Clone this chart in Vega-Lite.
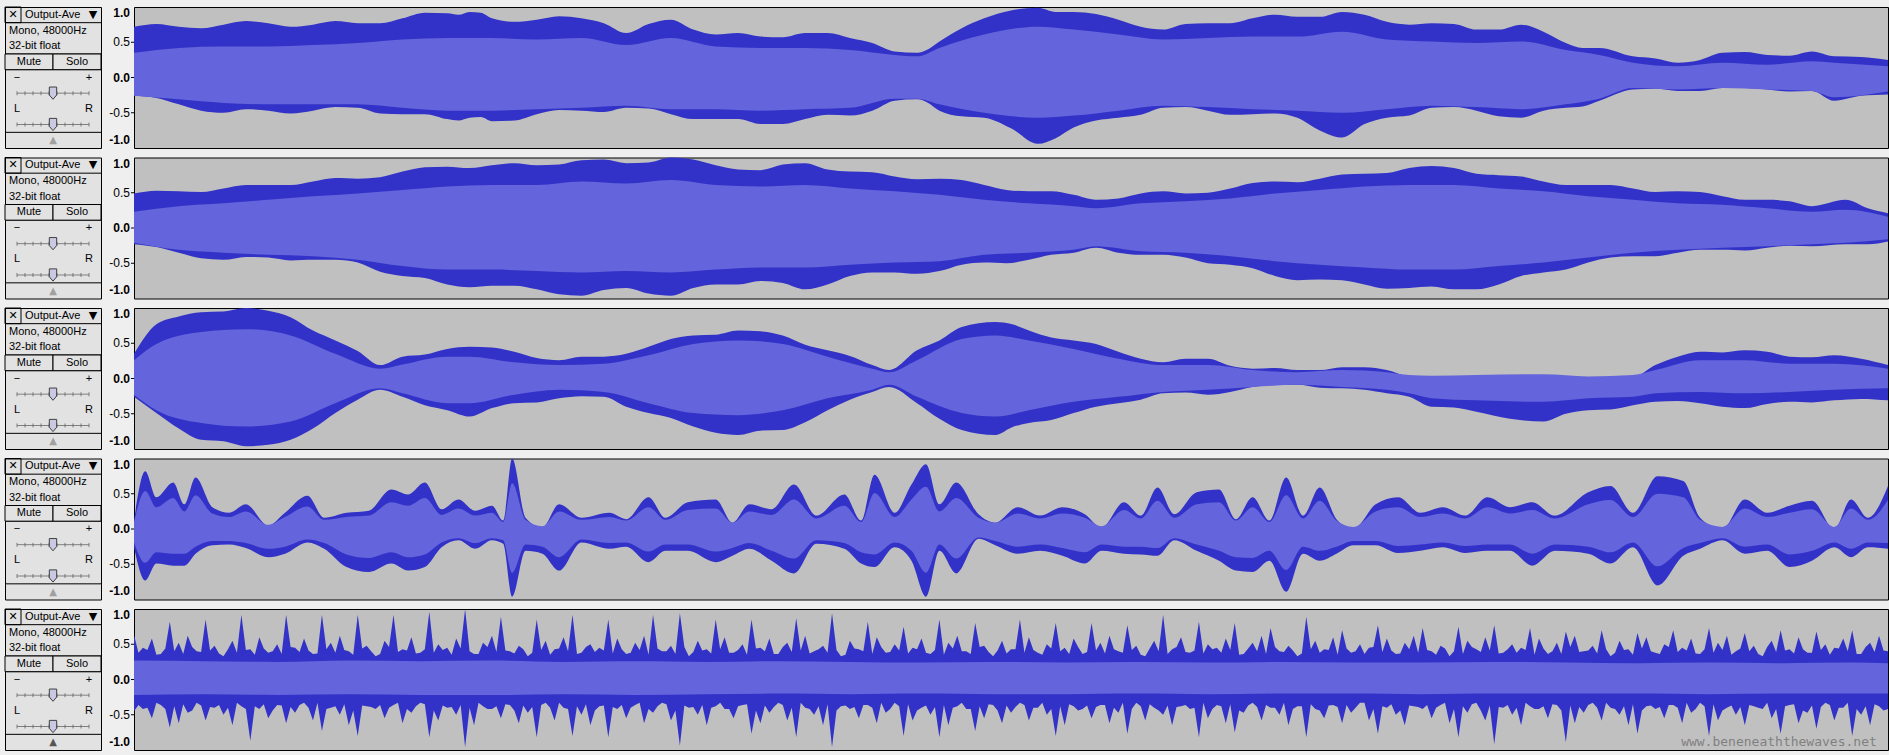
{
"$schema":"https://vega.github.io/schema/vega-lite/v6.json",
"background":"#EFEFEF",
"padding":{"left":4,"top":6,"right":2,"bottom":4},
"config":{"font":"Liberation Sans","view":{"stroke":"#000"}},
"spacing":6,
"hconcat":[
{
"data":{"values":[
{"k":"sep","row":"r2","tracks":[1,2,3,4,5]},
{"k":"sep","row":"r4","tracks":[1,2,3,4,5]},
{"k":"sep","row":"r5","tracks":[1,2,3,4,5]},
{"k":"sep","row":"r9","tracks":[1,2,3,4,5]},
{"k":"box","row":"r1","s6":"s1","tracks":[1,2,3,4,5]},
{"k":"tc","row":"r1","s6":"s1","label":"✕","tracks":[1,2,3,4,5]},
{"k":"tc","row":"r1","s6":"s6","label":"▼","tracks":[1,2,3,4,5]},
{"k":"tl","row":"r1","s6":"s2","label":"Output-Ave","tracks":[1,2,3,4,5]},
{"k":"tl","row":"r2","s6":"s1","label":"Mono, 48000Hz","tracks":[1,2,3,4,5]},
{"k":"tl","row":"r3","s6":"s1","label":"32-bit float","tracks":[1,2,3,4,5]},
{"k":"btn","row":"r4","h2":"h1","label":"Mute","tracks":[1,2,3,4,5]},
{"k":"btn","row":"r4","h2":"h2","label":"Solo","tracks":[1,2,3,4,5]},
{"k":"arr","row":"r9","h2":"h1","label":"▲","tracks":[1,2,3,4,5]},
{"k":"sl","row":"r5","c12":"c02","label":"−","tracks":[1,2,3,4,5]},
{"k":"sl","row":"r5","c12":"c11","label":"+","tracks":[1,2,3,4,5]},
{"k":"sl","row":"r7","c12":"c02","label":"L","tracks":[1,2,3,4,5]},
{"k":"sl","row":"r7","c12":"c11","label":"R","tracks":[1,2,3,4,5]},
{"k":"tk","row":"r6","c12":"c02","tracks":[1,2,3,4,5]},
{"k":"tk","row":"r6","c12":"c03","tracks":[1,2,3,4,5]},
{"k":"tk","row":"r6","c12":"c04","tracks":[1,2,3,4,5]},
{"k":"tk","row":"r6","c12":"c05","tracks":[1,2,3,4,5]},
{"k":"tk","row":"r6","c12":"c06","tracks":[1,2,3,4,5]},
{"k":"tk","row":"r6","c12":"c07","tracks":[1,2,3,4,5]},
{"k":"tk","row":"r6","c12":"c08","tracks":[1,2,3,4,5]},
{"k":"tk","row":"r6","c12":"c09","tracks":[1,2,3,4,5]},
{"k":"tk","row":"r6","c12":"c10","tracks":[1,2,3,4,5]},
{"k":"tk","row":"r6","c12":"c11","tracks":[1,2,3,4,5]},
{"k":"tk","row":"r8","c12":"c02","tracks":[1,2,3,4,5]},
{"k":"tk","row":"r8","c12":"c03","tracks":[1,2,3,4,5]},
{"k":"tk","row":"r8","c12":"c04","tracks":[1,2,3,4,5]},
{"k":"tk","row":"r8","c12":"c05","tracks":[1,2,3,4,5]},
{"k":"tk","row":"r8","c12":"c06","tracks":[1,2,3,4,5]},
{"k":"tk","row":"r8","c12":"c07","tracks":[1,2,3,4,5]},
{"k":"tk","row":"r8","c12":"c08","tracks":[1,2,3,4,5]},
{"k":"tk","row":"r8","c12":"c09","tracks":[1,2,3,4,5]},
{"k":"tk","row":"r8","c12":"c10","tracks":[1,2,3,4,5]},
{"k":"tk","row":"r8","c12":"c11","tracks":[1,2,3,4,5]},
{"k":"th","row":"r6","c12":"c06","tracks":[1,2,3,4,5]},
{"k":"th","row":"r8","c12":"c06","tracks":[1,2,3,4,5]}
]},
"transform":[{"flatten":["tracks"],"as":["track"]}],
"facet":{"row":{"field":"track","type":"ordinal","title":null,"header":{"labels":false}}},
"spacing":{"row":7.5},
"spec":{
"width":96,"height":141,
"view":{"fill":"#E2E2E2","stroke":"#000"},
"resolve":{"scale":{"x":"independent"}},
"layer":[
{"transform":[{"filter":"datum.k==='sep'"}],
 "mark":{"type":"rule","color":"#000","strokeWidth":1},
 "encoding":{"y":{"field":"row","type":"nominal","bandPosition":0,"scale":{"type":"band","domain":["r1","r2","r3","r4","r5","r6","r7","r8","r9"],"paddingInner":0,"paddingOuter":0},"axis":null}}},
{"transform":[{"filter":"datum.k==='box'"}],
 "mark":{"type":"rect","fillOpacity":0,"stroke":"#000","strokeWidth":1},
 "encoding":{"x":{"field":"s6","type":"nominal","scale":{"type":"band","domain":["s1","s2","s3","s4","s5","s6"],"paddingInner":0,"paddingOuter":0},"axis":null},
 "y":{"field":"row","type":"nominal","scale":{"type":"band","domain":["r1","r2","r3","r4","r5","r6","r7","r8","r9"],"paddingInner":0,"paddingOuter":0},"axis":null}}},
{"transform":[{"filter":"datum.k==='tc'"}],
 "mark":{"type":"text","fontSize":11,"font":"DejaVu Sans","color":"#000","baseline":"middle"},
 "encoding":{"x":{"field":"s6","type":"nominal","scale":{"type":"band","domain":["s1","s2","s3","s4","s5","s6"],"paddingInner":0,"paddingOuter":0},"axis":null},
 "y":{"field":"row","type":"nominal","scale":{"type":"band","domain":["r1","r2","r3","r4","r5","r6","r7","r8","r9"],"paddingInner":0,"paddingOuter":0},"axis":null},
 "text":{"field":"label"}}},
{"transform":[{"filter":"datum.k==='tl'"}],
 "mark":{"type":"text","fontSize":11,"align":"left","dx":4,"color":"#000","baseline":"middle"},
 "encoding":{"x":{"field":"s6","type":"nominal","bandPosition":0,"scale":{"type":"band","domain":["s1","s2","s3","s4","s5","s6"],"paddingInner":0,"paddingOuter":0},"axis":null},
 "y":{"field":"row","type":"nominal","scale":{"type":"band","domain":["r1","r2","r3","r4","r5","r6","r7","r8","r9"],"paddingInner":0,"paddingOuter":0},"axis":null},
 "text":{"field":"label"}}},
{"transform":[{"filter":"datum.k==='btn'"}],
 "mark":{"type":"rect","fill":"#E2E2E2","stroke":"#000","strokeWidth":1},
 "encoding":{"x":{"field":"h2","type":"nominal","scale":{"type":"band","domain":["h1","h2"],"paddingInner":0,"paddingOuter":0},"axis":null},
 "y":{"field":"row","type":"nominal","scale":{"type":"band","domain":["r1","r2","r3","r4","r5","r6","r7","r8","r9"],"paddingInner":0,"paddingOuter":0},"axis":null}}},
{"transform":[{"filter":"datum.k==='btn'"}],
 "mark":{"type":"text","fontSize":11,"color":"#000","baseline":"middle"},
 "encoding":{"x":{"field":"h2","type":"nominal","scale":{"type":"band","domain":["h1","h2"],"paddingInner":0,"paddingOuter":0},"axis":null},
 "y":{"field":"row","type":"nominal","scale":{"type":"band","domain":["r1","r2","r3","r4","r5","r6","r7","r8","r9"],"paddingInner":0,"paddingOuter":0},"axis":null},
 "text":{"field":"label"}}},
{"transform":[{"filter":"datum.k==='arr'"}],
 "mark":{"type":"text","fontSize":10,"font":"DejaVu Sans","baseline":"middle"},
 "encoding":{"x":{"field":"h2","type":"nominal","bandPosition":1,"scale":{"type":"band","domain":["h1","h2"],"paddingInner":0,"paddingOuter":0},"axis":null},
 "y":{"field":"row","type":"nominal","scale":{"type":"band","domain":["r1","r2","r3","r4","r5","r6","r7","r8","r9"],"paddingInner":0,"paddingOuter":0},"axis":null},
 "color":{"condition":{"test":"datum.track===5","value":"#555555"},"value":"#A0A0A0"},
 "text":{"field":"label"}}},
{"transform":[{"filter":"datum.k==='sl'"}],
 "mark":{"type":"text","fontSize":11,"color":"#000","baseline":"middle"},
 "encoding":{"x":{"field":"c12","type":"nominal","scale":{"type":"band","domain":["c01","c02","c03","c04","c05","c06","c07","c08","c09","c10","c11","c12"],"paddingInner":0,"paddingOuter":0},"axis":null},
 "y":{"field":"row","type":"nominal","scale":{"type":"band","domain":["r1","r2","r3","r4","r5","r6","r7","r8","r9"],"paddingInner":0,"paddingOuter":0},"axis":null},
 "text":{"field":"label"}}},
{"transform":[{"filter":"datum.k==='tk'"}],
 "mark":{"type":"line","color":"#808080","strokeWidth":1},
 "encoding":{"x":{"field":"c12","type":"nominal","scale":{"type":"band","domain":["c01","c02","c03","c04","c05","c06","c07","c08","c09","c10","c11","c12"],"paddingInner":0,"paddingOuter":0},"axis":null},
 "y":{"field":"row","type":"nominal","scale":{"type":"band","domain":["r1","r2","r3","r4","r5","r6","r7","r8","r9"],"paddingInner":0,"paddingOuter":0},"axis":null},
 "detail":{"field":"row"}}},
{"transform":[{"filter":"datum.k==='tk'"}],
 "mark":{"type":"tick","orient":"vertical","size":4,"thickness":1,"color":"#555555"},
 "encoding":{"x":{"field":"c12","type":"nominal","scale":{"type":"band","domain":["c01","c02","c03","c04","c05","c06","c07","c08","c09","c10","c11","c12"],"paddingInner":0,"paddingOuter":0},"axis":null},
 "y":{"field":"row","type":"nominal","scale":{"type":"band","domain":["r1","r2","r3","r4","r5","r6","r7","r8","r9"],"paddingInner":0,"paddingOuter":0},"axis":null}}},
{"transform":[{"filter":"datum.k==='th'"}],
 "mark":{"type":"point","shape":"M-0.6,-1L0.6,-1L0.6,0.3L0,1L-0.6,0.3Z","size":150,"filled":true,"fill":"#C9C9E3","stroke":"#404040","strokeWidth":1,"opacity":1},
 "encoding":{"x":{"field":"c12","type":"nominal","bandPosition":1,"scale":{"type":"band","domain":["c01","c02","c03","c04","c05","c06","c07","c08","c09","c10","c11","c12"],"paddingInner":0,"paddingOuter":0},"axis":null},
 "y":{"field":"row","type":"nominal","scale":{"type":"band","domain":["r1","r2","r3","r4","r5","r6","r7","r8","r9"],"paddingInner":0,"paddingOuter":0},"axis":null}}}
]}
},
{
"data":{"values":[
{"t":1,"x":0,"hi":0.72,"lo":-0.26,"rhi":0.35,"rlo":-0.26},
{"t":1,"x":40,"hi":0.72,"lo":-0.38,"rhi":0.42,"rlo":-0.31},
{"t":1,"x":80,"hi":0.75,"lo":-0.50,"rhi":0.44,"rlo":-0.36},
{"t":1,"x":120,"hi":0.77,"lo":-0.47,"rhi":0.44,"rlo":-0.38},
{"t":1,"x":160,"hi":0.75,"lo":-0.47,"rhi":0.46,"rlo":-0.38},
{"t":1,"x":200,"hi":0.77,"lo":-0.43,"rhi":0.49,"rlo":-0.38},
{"t":1,"x":240,"hi":0.84,"lo":-0.52,"rhi":0.54,"rlo":-0.43},
{"t":1,"x":280,"hi":0.91,"lo":-0.59,"rhi":0.56,"rlo":-0.47},
{"t":1,"x":300,"hi":0.93,"lo":-0.57,"rhi":0.56,"rlo":-0.47},
{"t":1,"x":320,"hi":0.84,"lo":-0.62,"rhi":0.56,"rlo":-0.47},
{"t":1,"x":360,"hi":0.82,"lo":-0.52,"rhi":0.54,"rlo":-0.45},
{"t":1,"x":400,"hi":0.84,"lo":-0.47,"rhi":0.56,"rlo":-0.43},
{"t":1,"x":440,"hi":0.63,"lo":-0.43,"rhi":0.46,"rlo":-0.40},
{"t":1,"x":480,"hi":0.82,"lo":-0.52,"rhi":0.56,"rlo":-0.45},
{"t":1,"x":520,"hi":0.61,"lo":-0.59,"rhi":0.44,"rlo":-0.45},
{"t":1,"x":560,"hi":0.58,"lo":-0.66,"rhi":0.42,"rlo":-0.47},
{"t":1,"x":600,"hi":0.63,"lo":-0.59,"rhi":0.42,"rlo":-0.45},
{"t":1,"x":640,"hi":0.56,"lo":-0.54,"rhi":0.39,"rlo":-0.43},
{"t":1,"x":680,"hi":0.37,"lo":-0.33,"rhi":0.32,"rlo":-0.30},
{"t":1,"x":700,"hi":0.35,"lo":-0.31,"rhi":0.30,"rlo":-0.30},
{"t":1,"x":720,"hi":0.51,"lo":-0.47,"rhi":0.42,"rlo":-0.38},
{"t":1,"x":760,"hi":0.84,"lo":-0.57,"rhi":0.61,"rlo":-0.50},
{"t":1,"x":808,"hi":0.99,"lo":-0.94,"rhi":0.72,"rlo":-0.57},
{"t":1,"x":840,"hi":0.93,"lo":-0.71,"rhi":0.68,"rlo":-0.54},
{"t":1,"x":880,"hi":0.82,"lo":-0.57,"rhi":0.61,"rlo":-0.47},
{"t":1,"x":920,"hi":0.68,"lo":-0.43,"rhi":0.54,"rlo":-0.40},
{"t":1,"x":960,"hi":0.77,"lo":-0.47,"rhi":0.56,"rlo":-0.42},
{"t":1,"x":1000,"hi":0.84,"lo":-0.52,"rhi":0.58,"rlo":-0.45},
{"t":1,"x":1040,"hi":0.86,"lo":-0.57,"rhi":0.58,"rlo":-0.47},
{"t":1,"x":1080,"hi":0.93,"lo":-0.85,"rhi":0.65,"rlo":-0.50},
{"t":1,"x":1120,"hi":0.79,"lo":-0.57,"rhi":0.54,"rlo":-0.45},
{"t":1,"x":1160,"hi":0.77,"lo":-0.43,"rhi":0.51,"rlo":-0.40},
{"t":1,"x":1200,"hi":0.68,"lo":-0.47,"rhi":0.49,"rlo":-0.42},
{"t":1,"x":1240,"hi":0.75,"lo":-0.57,"rhi":0.51,"rlo":-0.45},
{"t":1,"x":1280,"hi":0.49,"lo":-0.43,"rhi":0.39,"rlo":-0.38},
{"t":1,"x":1310,"hi":0.42,"lo":-0.33,"rhi":0.32,"rlo":-0.30},
{"t":1,"x":1340,"hi":0.30,"lo":-0.17,"rhi":0.21,"rlo":-0.15},
{"t":1,"x":1380,"hi":0.21,"lo":-0.19,"rhi":0.16,"rlo":-0.17},
{"t":1,"x":1420,"hi":0.35,"lo":-0.15,"rhi":0.21,"rlo":-0.15},
{"t":1,"x":1460,"hi":0.32,"lo":-0.17,"rhi":0.18,"rlo":-0.17},
{"t":1,"x":1500,"hi":0.37,"lo":-0.19,"rhi":0.23,"rlo":-0.19},
{"t":1,"x":1520,"hi":0.30,"lo":-0.33,"rhi":0.21,"rlo":-0.28},
{"t":1,"x":1568,"hi":0.25,"lo":-0.24,"rhi":0.16,"rlo":-0.20},
{"t":1,"x":20,"hi":0.76,"lo":-0.29},
{"t":1,"x":60,"hi":0.70,"lo":-0.47},
{"t":1,"x":100,"hi":0.80,"lo":-0.45},
{"t":1,"x":140,"hi":0.72,"lo":-0.51},
{"t":1,"x":180,"hi":0.80,"lo":-0.42},
{"t":1,"x":220,"hi":0.77,"lo":-0.51},
{"t":1,"x":260,"hi":0.92,"lo":-0.52},
{"t":1,"x":290,"hi":0.89,"lo":-0.61},
{"t":1,"x":310,"hi":0.92,"lo":-0.56},
{"t":1,"x":340,"hi":0.79,"lo":-0.61},
{"t":1,"x":380,"hi":0.87,"lo":-0.46},
{"t":1,"x":420,"hi":0.77,"lo":-0.49},
{"t":1,"x":460,"hi":0.76,"lo":-0.44},
{"t":1,"x":500,"hi":0.68,"lo":-0.59},
{"t":1,"x":540,"hi":0.63,"lo":-0.59},
{"t":1,"x":580,"hi":0.57,"lo":-0.66},
{"t":1,"x":620,"hi":0.63,"lo":-0.53},
{"t":1,"x":660,"hi":0.49,"lo":-0.47},
{"t":1,"x":710,"hi":0.40,"lo":-0.36},
{"t":1,"x":740,"hi":0.70,"lo":-0.55},
{"t":1,"x":784,"hi":0.95,"lo":-0.72},
{"t":1,"x":824,"hi":0.93,"lo":-0.86},
{"t":1,"x":860,"hi":0.90,"lo":-0.61},
{"t":1,"x":900,"hi":0.72,"lo":-0.53},
{"t":1,"x":940,"hi":0.76,"lo":-0.42},
{"t":1,"x":980,"hi":0.77,"lo":-0.53},
{"t":1,"x":1020,"hi":0.89,"lo":-0.51},
{"t":1,"x":1060,"hi":0.86,"lo":-0.75},
{"t":1,"x":1100,"hi":0.89,"lo":-0.66},
{"t":1,"x":1140,"hi":0.75,"lo":-0.54},
{"t":1,"x":1180,"hi":0.76,"lo":-0.42},
{"t":1,"x":1220,"hi":0.68,"lo":-0.55},
{"t":1,"x":1260,"hi":0.65,"lo":-0.47},
{"t":1,"x":1295,"hi":0.42,"lo":-0.41},
{"t":1,"x":1360,"hi":0.27,"lo":-0.16},
{"t":1,"x":1400,"hi":0.25,"lo":-0.19},
{"t":1,"x":1440,"hi":0.36,"lo":-0.15},
{"t":1,"x":1480,"hi":0.31,"lo":-0.20},
{"t":1,"x":1544,"hi":0.29,"lo":-0.26},
{"t":2,"x":0,"hi":0.49,"lo":-0.23,"rhi":0.23,"rlo":-0.21},
{"t":2,"x":40,"hi":0.52,"lo":-0.35,"rhi":0.31,"rlo":-0.31},
{"t":2,"x":80,"hi":0.56,"lo":-0.45,"rhi":0.35,"rlo":-0.35},
{"t":2,"x":120,"hi":0.61,"lo":-0.42,"rhi":0.40,"rlo":-0.38},
{"t":2,"x":160,"hi":0.66,"lo":-0.45,"rhi":0.45,"rlo":-0.40},
{"t":2,"x":200,"hi":0.70,"lo":-0.49,"rhi":0.49,"rlo":-0.45},
{"t":2,"x":240,"hi":0.80,"lo":-0.68,"rhi":0.54,"rlo":-0.54},
{"t":2,"x":280,"hi":0.87,"lo":-0.80,"rhi":0.59,"rlo":-0.59},
{"t":2,"x":320,"hi":0.89,"lo":-0.82,"rhi":0.61,"rlo":-0.59},
{"t":2,"x":360,"hi":0.89,"lo":-0.87,"rhi":0.61,"rlo":-0.61},
{"t":2,"x":400,"hi":0.96,"lo":-0.96,"rhi":0.66,"rlo":-0.63},
{"t":2,"x":440,"hi":0.92,"lo":-0.85,"rhi":0.63,"rlo":-0.61},
{"t":2,"x":480,"hi":1.0,"lo":-0.96,"rhi":0.68,"rlo":-0.63},
{"t":2,"x":520,"hi":0.89,"lo":-0.80,"rhi":0.61,"rlo":-0.59},
{"t":2,"x":560,"hi":0.82,"lo":-0.75,"rhi":0.59,"rlo":-0.56},
{"t":2,"x":600,"hi":0.92,"lo":-0.87,"rhi":0.61,"rlo":-0.56},
{"t":2,"x":640,"hi":0.80,"lo":-0.68,"rhi":0.56,"rlo":-0.52},
{"t":2,"x":680,"hi":0.73,"lo":-0.63,"rhi":0.52,"rlo":-0.49},
{"t":2,"x":720,"hi":0.70,"lo":-0.61,"rhi":0.47,"rlo":-0.47},
{"t":2,"x":760,"hi":0.61,"lo":-0.49,"rhi":0.40,"rlo":-0.38},
{"t":2,"x":800,"hi":0.52,"lo":-0.45,"rhi":0.35,"rlo":-0.35},
{"t":2,"x":840,"hi":0.47,"lo":-0.35,"rhi":0.31,"rlo":-0.31},
{"t":2,"x":860,"hi":0.40,"lo":-0.28,"rhi":0.28,"rlo":-0.26},
{"t":2,"x":900,"hi":0.49,"lo":-0.38,"rhi":0.35,"rlo":-0.33},
{"t":2,"x":940,"hi":0.49,"lo":-0.42,"rhi":0.38,"rlo":-0.35},
{"t":2,"x":980,"hi":0.56,"lo":-0.52,"rhi":0.42,"rlo":-0.40},
{"t":2,"x":1020,"hi":0.66,"lo":-0.68,"rhi":0.49,"rlo":-0.47},
{"t":2,"x":1060,"hi":0.70,"lo":-0.73,"rhi":0.54,"rlo":-0.52},
{"t":2,"x":1100,"hi":0.77,"lo":-0.80,"rhi":0.59,"rlo":-0.56},
{"t":2,"x":1140,"hi":0.85,"lo":-0.85,"rhi":0.61,"rlo":-0.59},
{"t":2,"x":1180,"hi":0.85,"lo":-0.87,"rhi":0.61,"rlo":-0.59},
{"t":2,"x":1220,"hi":0.75,"lo":-0.80,"rhi":0.56,"rlo":-0.54},
{"t":2,"x":1260,"hi":0.66,"lo":-0.63,"rhi":0.52,"rlo":-0.49},
{"t":2,"x":1300,"hi":0.61,"lo":-0.49,"rhi":0.45,"rlo":-0.42},
{"t":2,"x":1340,"hi":0.56,"lo":-0.40,"rhi":0.40,"rlo":-0.35},
{"t":2,"x":1380,"hi":0.52,"lo":-0.35,"rhi":0.35,"rlo":-0.31},
{"t":2,"x":1420,"hi":0.45,"lo":-0.31,"rhi":0.33,"rlo":-0.28},
{"t":2,"x":1460,"hi":0.40,"lo":-0.28,"rhi":0.28,"rlo":-0.26},
{"t":2,"x":1500,"hi":0.31,"lo":-0.26,"rhi":0.23,"rlo":-0.23},
{"t":2,"x":1530,"hi":0.40,"lo":-0.23,"rhi":0.26,"rlo":-0.21},
{"t":2,"x":1568,"hi":0.21,"lo":-0.19,"rhi":0.16,"rlo":-0.16},
{"t":2,"x":20,"hi":0.53,"lo":-0.27},
{"t":2,"x":60,"hi":0.51,"lo":-0.43},
{"t":2,"x":100,"hi":0.61,"lo":-0.41},
{"t":2,"x":140,"hi":0.61,"lo":-0.46},
{"t":2,"x":180,"hi":0.71,"lo":-0.45},
{"t":2,"x":220,"hi":0.72,"lo":-0.62},
{"t":2,"x":260,"hi":0.86,"lo":-0.71},
{"t":2,"x":300,"hi":0.85,"lo":-0.84},
{"t":2,"x":340,"hi":0.92,"lo":-0.82},
{"t":2,"x":380,"hi":0.90,"lo":-0.94},
{"t":2,"x":420,"hi":0.97,"lo":-0.88},
{"t":2,"x":460,"hi":0.93,"lo":-0.93},
{"t":2,"x":500,"hi":0.97,"lo":-0.85},
{"t":2,"x":540,"hi":0.83,"lo":-0.80},
{"t":2,"x":580,"hi":0.90,"lo":-0.78},
{"t":2,"x":620,"hi":0.83,"lo":-0.80},
{"t":2,"x":660,"hi":0.79,"lo":-0.63},
{"t":2,"x":700,"hi":0.69,"lo":-0.65},
{"t":2,"x":740,"hi":0.68,"lo":-0.52},
{"t":2,"x":780,"hi":0.54,"lo":-0.50},
{"t":2,"x":820,"hi":0.52,"lo":-0.38},
{"t":2,"x":880,"hi":0.42,"lo":-0.35},
{"t":2,"x":920,"hi":0.52,"lo":-0.38},
{"t":2,"x":960,"hi":0.50,"lo":-0.50},
{"t":2,"x":1000,"hi":0.64,"lo":-0.57},
{"t":2,"x":1040,"hi":0.65,"lo":-0.74},
{"t":2,"x":1080,"hi":0.76,"lo":-0.74},
{"t":2,"x":1120,"hi":0.78,"lo":-0.86},
{"t":2,"x":1160,"hi":0.88,"lo":-0.83},
{"t":2,"x":1200,"hi":0.77,"lo":-0.87},
{"t":2,"x":1240,"hi":0.73,"lo":-0.68},
{"t":2,"x":1280,"hi":0.61,"lo":-0.59},
{"t":2,"x":1320,"hi":0.61,"lo":-0.42},
{"t":2,"x":1360,"hi":0.51,"lo":-0.40},
{"t":2,"x":1400,"hi":0.51,"lo":-0.31},
{"t":2,"x":1440,"hi":0.40,"lo":-0.32},
{"t":2,"x":1480,"hi":0.38,"lo":-0.25},
{"t":2,"x":1550,"hi":0.28,"lo":-0.23},
{"t":3,"x":0,"hi":0.35,"lo":-0.26,"rhi":0.26,"rlo":-0.23},
{"t":3,"x":20,"hi":0.77,"lo":-0.49,"rhi":0.49,"rlo":-0.45},
{"t":3,"x":60,"hi":0.94,"lo":-0.87,"rhi":0.66,"rlo":-0.63},
{"t":3,"x":100,"hi":1.0,"lo":-0.96,"rhi":0.70,"rlo":-0.68},
{"t":3,"x":140,"hi":0.87,"lo":-0.87,"rhi":0.61,"rlo":-0.61},
{"t":3,"x":180,"hi":0.54,"lo":-0.49,"rhi":0.35,"rlo":-0.35},
{"t":3,"x":220,"hi":0.19,"lo":-0.16,"rhi":0.14,"rlo":-0.14},
{"t":3,"x":240,"hi":0.31,"lo":-0.26,"rhi":0.20,"rlo":-0.21},
{"t":3,"x":280,"hi":0.42,"lo":-0.45,"rhi":0.31,"rlo":-0.35},
{"t":3,"x":300,"hi":0.45,"lo":-0.54,"rhi":0.31,"rlo":-0.35},
{"t":3,"x":340,"hi":0.38,"lo":-0.35,"rhi":0.23,"rlo":-0.23},
{"t":3,"x":380,"hi":0.26,"lo":-0.28,"rhi":0.19,"rlo":-0.16},
{"t":3,"x":420,"hi":0.31,"lo":-0.26,"rhi":0.21,"rlo":-0.19},
{"t":3,"x":460,"hi":0.45,"lo":-0.49,"rhi":0.33,"rlo":-0.35},
{"t":3,"x":500,"hi":0.61,"lo":-0.68,"rhi":0.49,"rlo":-0.49},
{"t":3,"x":540,"hi":0.68,"lo":-0.80,"rhi":0.54,"rlo":-0.52},
{"t":3,"x":580,"hi":0.61,"lo":-0.73,"rhi":0.49,"rlo":-0.45},
{"t":3,"x":620,"hi":0.40,"lo":-0.45,"rhi":0.31,"rlo":-0.28},
{"t":3,"x":660,"hi":0.19,"lo":-0.19,"rhi":0.14,"rlo":-0.16},
{"t":3,"x":675,"hi":0.12,"lo":-0.12,"rhi":0.09,"rlo":-0.09},
{"t":3,"x":700,"hi":0.40,"lo":-0.35,"rhi":0.26,"rlo":-0.26},
{"t":3,"x":740,"hi":0.73,"lo":-0.73,"rhi":0.56,"rlo":-0.49},
{"t":3,"x":770,"hi":0.80,"lo":-0.80,"rhi":0.61,"rlo":-0.54},
{"t":3,"x":800,"hi":0.68,"lo":-0.63,"rhi":0.54,"rlo":-0.45},
{"t":3,"x":840,"hi":0.54,"lo":-0.49,"rhi":0.42,"rlo":-0.33},
{"t":3,"x":880,"hi":0.38,"lo":-0.35,"rhi":0.28,"rlo":-0.26},
{"t":3,"x":920,"hi":0.23,"lo":-0.21,"rhi":0.19,"rlo":-0.19},
{"t":3,"x":960,"hi":0.28,"lo":-0.23,"rhi":0.19,"rlo":-0.16},
{"t":3,"x":1000,"hi":0.14,"lo":-0.12,"rhi":0.12,"rlo":-0.12},
{"t":3,"x":1040,"hi":0.12,"lo":-0.09,"rhi":0.09,"rlo":-0.09},
{"t":3,"x":1080,"hi":0.16,"lo":-0.14,"rhi":0.12,"rlo":-0.12},
{"t":3,"x":1120,"hi":0.12,"lo":-0.21,"rhi":0.09,"rlo":-0.16},
{"t":3,"x":1140,"hi":0.03,"lo":-0.26,"rhi":0.05,"rlo":-0.21},
{"t":3,"x":1160,"hi":0.02,"lo":-0.40,"rhi":0.04,"rlo":-0.28},
{"t":3,"x":1200,"hi":0.02,"lo":-0.47,"rhi":0.05,"rlo":-0.31},
{"t":3,"x":1260,"hi":0.02,"lo":-0.61,"rhi":0.06,"rlo":-0.33},
{"t":3,"x":1300,"hi":0.01,"lo":-0.45,"rhi":0.03,"rlo":-0.28},
{"t":3,"x":1340,"hi":0.02,"lo":-0.38,"rhi":0.05,"rlo":-0.26},
{"t":3,"x":1360,"hi":0.19,"lo":-0.33,"rhi":0.12,"rlo":-0.21},
{"t":3,"x":1400,"hi":0.38,"lo":-0.35,"rhi":0.26,"rlo":-0.19},
{"t":3,"x":1440,"hi":0.40,"lo":-0.42,"rhi":0.26,"rlo":-0.21},
{"t":3,"x":1480,"hi":0.31,"lo":-0.33,"rhi":0.21,"rlo":-0.19},
{"t":3,"x":1520,"hi":0.33,"lo":-0.31,"rhi":0.21,"rlo":-0.16},
{"t":3,"x":1568,"hi":0.19,"lo":-0.31,"rhi":0.14,"rlo":-0.14},
{"t":3,"x":40,"hi":0.88,"lo":-0.71},
{"t":3,"x":80,"hi":0.95,"lo":-0.89},
{"t":3,"x":120,"hi":0.96,"lo":-0.94},
{"t":3,"x":160,"hi":0.68,"lo":-0.71},
{"t":3,"x":200,"hi":0.39,"lo":-0.30},
{"t":3,"x":260,"hi":0.34,"lo":-0.38},
{"t":3,"x":320,"hi":0.44,"lo":-0.42},
{"t":3,"x":360,"hi":0.29,"lo":-0.34},
{"t":3,"x":400,"hi":0.31,"lo":-0.25},
{"t":3,"x":440,"hi":0.35,"lo":-0.40},
{"t":3,"x":480,"hi":0.56,"lo":-0.56},
{"t":3,"x":520,"hi":0.62,"lo":-0.77},
{"t":3,"x":560,"hi":0.67,"lo":-0.74},
{"t":3,"x":600,"hi":0.48,"lo":-0.62},
{"t":3,"x":640,"hi":0.32,"lo":-0.30},
{"t":3,"x":720,"hi":0.54,"lo":-0.57},
{"t":3,"x":785,"hi":0.77,"lo":-0.69},
{"t":3,"x":820,"hi":0.58,"lo":-0.59},
{"t":3,"x":860,"hi":0.49,"lo":-0.40},
{"t":3,"x":900,"hi":0.28,"lo":-0.30},
{"t":3,"x":940,"hi":0.28,"lo":-0.20},
{"t":3,"x":980,"hi":0.18,"lo":-0.19},
{"t":3,"x":1020,"hi":0.15,"lo":-0.09},
{"t":3,"x":1060,"hi":0.12,"lo":-0.13},
{"t":3,"x":1100,"hi":0.16,"lo":-0.16},
{"t":3,"x":1180,"hi":0.03,"lo":-0.41},
{"t":3,"x":1230,"hi":0.01,"lo":-0.57},
{"t":3,"x":1280,"hi":0.03,"lo":-0.50},
{"t":3,"x":1320,"hi":0.02,"lo":-0.44},
{"t":3,"x":1380,"hi":0.31,"lo":-0.32},
{"t":3,"x":1420,"hi":0.37,"lo":-0.40},
{"t":3,"x":1460,"hi":0.38,"lo":-0.36},
{"t":3,"x":1500,"hi":0.30,"lo":-0.34},
{"t":3,"x":1544,"hi":0.28,"lo":-0.29},
{"t":4,"x":0,"hi":0.12,"lo":-0.26,"rhi":0.10,"rlo":-0.19},
{"t":4,"x":10,"hi":0.82,"lo":-0.73,"rhi":0.54,"rlo":-0.48},
{"t":4,"x":20,"hi":0.45,"lo":-0.49,"rhi":0.31,"rlo":-0.33},
{"t":4,"x":35,"hi":0.66,"lo":-0.52,"rhi":0.44,"rlo":-0.35},
{"t":4,"x":45,"hi":0.35,"lo":-0.52,"rhi":0.25,"rlo":-0.35},
{"t":4,"x":55,"hi":0.73,"lo":-0.35,"rhi":0.48,"rlo":-0.25},
{"t":4,"x":70,"hi":0.31,"lo":-0.23,"rhi":0.22,"rlo":-0.17},
{"t":4,"x":85,"hi":0.23,"lo":-0.22,"rhi":0.17,"rlo":-0.17},
{"t":4,"x":100,"hi":0.35,"lo":-0.27,"rhi":0.25,"rlo":-0.20},
{"t":4,"x":120,"hi":0.05,"lo":-0.40,"rhi":0.06,"rlo":-0.28},
{"t":4,"x":135,"hi":0.23,"lo":-0.35,"rhi":0.17,"rlo":-0.25},
{"t":4,"x":155,"hi":0.47,"lo":-0.19,"rhi":0.32,"rlo":-0.15},
{"t":4,"x":170,"hi":0.16,"lo":-0.28,"rhi":0.13,"rlo":-0.20},
{"t":4,"x":190,"hi":0.23,"lo":-0.54,"rhi":0.17,"rlo":-0.36},
{"t":4,"x":210,"hi":0.26,"lo":-0.61,"rhi":0.19,"rlo":-0.41},
{"t":4,"x":230,"hi":0.56,"lo":-0.49,"rhi":0.38,"rlo":-0.33},
{"t":4,"x":245,"hi":0.49,"lo":-0.59,"rhi":0.33,"rlo":-0.40},
{"t":4,"x":260,"hi":0.66,"lo":-0.54,"rhi":0.44,"rlo":-0.36},
{"t":4,"x":275,"hi":0.28,"lo":-0.26,"rhi":0.20,"rlo":-0.19},
{"t":4,"x":290,"hi":0.42,"lo":-0.16,"rhi":0.29,"rlo":-0.13},
{"t":4,"x":305,"hi":0.26,"lo":-0.28,"rhi":0.19,"rlo":-0.20},
{"t":4,"x":320,"hi":0.33,"lo":-0.16,"rhi":0.23,"rlo":-0.13},
{"t":4,"x":330,"hi":0.12,"lo":-0.21,"rhi":0.10,"rlo":-0.16},
{"t":4,"x":338,"hi":1.0,"lo":-0.96,"rhi":0.65,"rlo":-0.62},
{"t":4,"x":350,"hi":0.16,"lo":-0.31,"rhi":0.13,"rlo":-0.22},
{"t":4,"x":365,"hi":0.02,"lo":-0.35,"rhi":0.04,"rlo":-0.25},
{"t":4,"x":380,"hi":0.35,"lo":-0.59,"rhi":0.25,"rlo":-0.40},
{"t":4,"x":400,"hi":0.16,"lo":-0.19,"rhi":0.13,"rlo":-0.15},
{"t":4,"x":425,"hi":0.23,"lo":-0.28,"rhi":0.17,"rlo":-0.20},
{"t":4,"x":440,"hi":0.14,"lo":-0.25,"rhi":0.12,"rlo":-0.19},
{"t":4,"x":460,"hi":0.45,"lo":-0.47,"rhi":0.31,"rlo":-0.32},
{"t":4,"x":475,"hi":0.16,"lo":-0.31,"rhi":0.13,"rlo":-0.22},
{"t":4,"x":495,"hi":0.38,"lo":-0.31,"rhi":0.27,"rlo":-0.22},
{"t":4,"x":520,"hi":0.42,"lo":-0.47,"rhi":0.29,"rlo":-0.32},
{"t":4,"x":535,"hi":0.09,"lo":-0.38,"rhi":0.09,"rlo":-0.27},
{"t":4,"x":550,"hi":0.35,"lo":-0.28,"rhi":0.25,"rlo":-0.20},
{"t":4,"x":570,"hi":0.28,"lo":-0.45,"rhi":0.20,"rlo":-0.31},
{"t":4,"x":590,"hi":0.63,"lo":-0.63,"rhi":0.42,"rlo":-0.42},
{"t":4,"x":610,"hi":0.19,"lo":-0.21,"rhi":0.15,"rlo":-0.16},
{"t":4,"x":635,"hi":0.49,"lo":-0.28,"rhi":0.33,"rlo":-0.20},
{"t":4,"x":650,"hi":0.12,"lo":-0.49,"rhi":0.10,"rlo":-0.33},
{"t":4,"x":662,"hi":0.77,"lo":-0.54,"rhi":0.51,"rlo":-0.36},
{"t":4,"x":680,"hi":0.23,"lo":-0.26,"rhi":0.17,"rlo":-0.19},
{"t":4,"x":695,"hi":0.63,"lo":-0.45,"rhi":0.42,"rlo":-0.31},
{"t":4,"x":708,"hi":0.92,"lo":-0.96,"rhi":0.60,"rlo":-0.62},
{"t":4,"x":720,"hi":0.35,"lo":-0.31,"rhi":0.25,"rlo":-0.22},
{"t":4,"x":735,"hi":0.66,"lo":-0.63,"rhi":0.44,"rlo":-0.42},
{"t":4,"x":755,"hi":0.21,"lo":-0.14,"rhi":0.16,"rlo":-0.12},
{"t":4,"x":770,"hi":0.09,"lo":-0.23,"rhi":0.09,"rlo":-0.17},
{"t":4,"x":790,"hi":0.31,"lo":-0.35,"rhi":0.22,"rlo":-0.25},
{"t":4,"x":810,"hi":0.19,"lo":-0.31,"rhi":0.15,"rlo":-0.22},
{"t":4,"x":830,"hi":0.31,"lo":-0.38,"rhi":0.22,"rlo":-0.27},
{"t":4,"x":850,"hi":0.21,"lo":-0.49,"rhi":0.16,"rlo":-0.33},
{"t":4,"x":865,"hi":0.02,"lo":-0.31,"rhi":0.04,"rlo":-0.22},
{"t":4,"x":885,"hi":0.38,"lo":-0.35,"rhi":0.27,"rlo":-0.25},
{"t":4,"x":900,"hi":0.19,"lo":-0.36,"rhi":0.15,"rlo":-0.25},
{"t":4,"x":915,"hi":0.59,"lo":-0.38,"rhi":0.40,"rlo":-0.27},
{"t":4,"x":930,"hi":0.21,"lo":-0.16,"rhi":0.16,"rlo":-0.13},
{"t":4,"x":950,"hi":0.52,"lo":-0.31,"rhi":0.35,"rlo":-0.22},
{"t":4,"x":970,"hi":0.56,"lo":-0.45,"rhi":0.38,"rlo":-0.31},
{"t":4,"x":985,"hi":0.14,"lo":-0.59,"rhi":0.12,"rlo":-0.40},
{"t":4,"x":1000,"hi":0.45,"lo":-0.61,"rhi":0.31,"rlo":-0.41},
{"t":4,"x":1015,"hi":0.12,"lo":-0.45,"rhi":0.10,"rlo":-0.31},
{"t":4,"x":1030,"hi":0.73,"lo":-0.89,"rhi":0.48,"rlo":-0.58},
{"t":4,"x":1045,"hi":0.19,"lo":-0.35,"rhi":0.15,"rlo":-0.25},
{"t":4,"x":1060,"hi":0.59,"lo":-0.45,"rhi":0.40,"rlo":-0.31},
{"t":4,"x":1075,"hi":0.14,"lo":-0.35,"rhi":0.12,"rlo":-0.25},
{"t":4,"x":1090,"hi":0.0,"lo":-0.23,"rhi":0.03,"rlo":-0.17},
{"t":4,"x":1110,"hi":0.35,"lo":-0.23,"rhi":0.25,"rlo":-0.17},
{"t":4,"x":1130,"hi":0.45,"lo":-0.34,"rhi":0.31,"rlo":-0.24},
{"t":4,"x":1150,"hi":0.23,"lo":-0.31,"rhi":0.17,"rlo":-0.22},
{"t":4,"x":1170,"hi":0.31,"lo":-0.26,"rhi":0.22,"rlo":-0.19},
{"t":4,"x":1190,"hi":0.19,"lo":-0.34,"rhi":0.15,"rlo":-0.24},
{"t":4,"x":1210,"hi":0.45,"lo":-0.31,"rhi":0.31,"rlo":-0.22},
{"t":4,"x":1230,"hi":0.31,"lo":-0.31,"rhi":0.22,"rlo":-0.22},
{"t":4,"x":1250,"hi":0.38,"lo":-0.52,"rhi":0.27,"rlo":-0.35},
{"t":4,"x":1270,"hi":0.19,"lo":-0.31,"rhi":0.15,"rlo":-0.22},
{"t":4,"x":1300,"hi":0.52,"lo":-0.35,"rhi":0.35,"rlo":-0.25},
{"t":4,"x":1320,"hi":0.61,"lo":-0.49,"rhi":0.41,"rlo":-0.33},
{"t":4,"x":1340,"hi":0.23,"lo":-0.26,"rhi":0.17,"rlo":-0.19},
{"t":4,"x":1362,"hi":0.75,"lo":-0.80,"rhi":0.50,"rlo":-0.53},
{"t":4,"x":1385,"hi":0.68,"lo":-0.38,"rhi":0.45,"rlo":-0.27},
{"t":4,"x":1400,"hi":0.16,"lo":-0.28,"rhi":0.13,"rlo":-0.20},
{"t":4,"x":1420,"hi":0.0,"lo":-0.16,"rhi":0.03,"rlo":-0.13},
{"t":4,"x":1440,"hi":0.42,"lo":-0.35,"rhi":0.29,"rlo":-0.25},
{"t":4,"x":1460,"hi":0.23,"lo":-0.31,"rhi":0.17,"rlo":-0.22},
{"t":4,"x":1480,"hi":0.33,"lo":-0.54,"rhi":0.23,"rlo":-0.36},
{"t":4,"x":1500,"hi":0.40,"lo":-0.45,"rhi":0.28,"rlo":-0.31},
{"t":4,"x":1520,"hi":0.0,"lo":-0.26,"rhi":0.03,"rlo":-0.19},
{"t":4,"x":1535,"hi":0.42,"lo":-0.40,"rhi":0.29,"rlo":-0.28},
{"t":4,"x":1550,"hi":0.16,"lo":-0.26,"rhi":0.13,"rlo":-0.19},
{"t":4,"x":1568,"hi":0.61,"lo":-0.28,"rhi":0.41,"rlo":-0.20},
{"t":5,"x":0,"hi":0.63,"lo":-0.45,"rhi":0.27,"rlo":-0.22},
{"t":5,"x":8,"hi":0.45,"lo":-0.42},
{"t":5,"x":16,"hi":0.58,"lo":-0.55},
{"t":5,"x":24,"hi":0.36,"lo":-0.36},
{"t":5,"x":32,"hi":0.82,"lo":-0.68},
{"t":5,"x":40,"hi":0.52,"lo":-0.62},
{"t":5,"x":48,"hi":0.62,"lo":-0.47},
{"t":5,"x":56,"hi":0.40,"lo":-0.33},
{"t":5,"x":64,"hi":0.85,"lo":-0.58,"rhi":0.26,"rlo":-0.21},
{"t":5,"x":72,"hi":0.48,"lo":-0.40},
{"t":5,"x":80,"hi":0.33,"lo":-0.50},
{"t":5,"x":88,"hi":0.55,"lo":-0.65},
{"t":5,"x":96,"hi":0.92,"lo":-0.38},
{"t":5,"x":104,"hi":0.43,"lo":-0.87},
{"t":5,"x":112,"hi":0.60,"lo":-0.42},
{"t":5,"x":120,"hi":0.38,"lo":-0.55},
{"t":5,"x":128,"hi":0.50,"lo":-0.36,"rhi":0.25,"rlo":-0.22},
{"t":5,"x":136,"hi":0.92,"lo":-0.62},
{"t":5,"x":144,"hi":0.45,"lo":-0.47},
{"t":5,"x":152,"hi":0.58,"lo":-0.33},
{"t":5,"x":160,"hi":0.36,"lo":-0.58},
{"t":5,"x":168,"hi":0.92,"lo":-0.73},
{"t":5,"x":176,"hi":0.52,"lo":-0.40},
{"t":5,"x":184,"hi":0.62,"lo":-0.50},
{"t":5,"x":192,"hi":0.40,"lo":-0.65,"rhi":0.27,"rlo":-0.21},
{"t":5,"x":200,"hi":0.92,"lo":-0.80},
{"t":5,"x":208,"hi":0.48,"lo":-0.38},
{"t":5,"x":216,"hi":0.33,"lo":-0.42},
{"t":5,"x":224,"hi":0.55,"lo":-0.55},
{"t":5,"x":232,"hi":0.92,"lo":-0.36},
{"t":5,"x":240,"hi":0.43,"lo":-0.62},
{"t":5,"x":248,"hi":0.60,"lo":-0.47},
{"t":5,"x":256,"hi":0.38,"lo":-0.33,"rhi":0.26,"rlo":-0.22},
{"t":5,"x":264,"hi":0.96,"lo":-0.82},
{"t":5,"x":272,"hi":0.50,"lo":-0.58},
{"t":5,"x":280,"hi":0.45,"lo":-0.40},
{"t":5,"x":288,"hi":0.58,"lo":-0.50},
{"t":5,"x":296,"hi":1.0,"lo":-0.96},
{"t":5,"x":304,"hi":0.36,"lo":-0.65},
{"t":5,"x":312,"hi":0.52,"lo":-0.38},
{"t":5,"x":320,"hi":0.62,"lo":-0.42,"rhi":0.27,"rlo":-0.22},
{"t":5,"x":328,"hi":0.89,"lo":-0.55},
{"t":5,"x":336,"hi":0.40,"lo":-0.36},
{"t":5,"x":344,"hi":0.48,"lo":-0.62},
{"t":5,"x":352,"hi":0.33,"lo":-0.47},
{"t":5,"x":360,"hi":0.85,"lo":-0.82},
{"t":5,"x":368,"hi":0.55,"lo":-0.33},
{"t":5,"x":376,"hi":0.43,"lo":-0.58},
{"t":5,"x":384,"hi":0.60,"lo":-0.40,"rhi":0.25,"rlo":-0.21},
{"t":5,"x":392,"hi":0.92,"lo":-0.80},
{"t":5,"x":400,"hi":0.38,"lo":-0.50},
{"t":5,"x":408,"hi":0.50,"lo":-0.65},
{"t":5,"x":416,"hi":0.45,"lo":-0.38},
{"t":5,"x":424,"hi":0.85,"lo":-0.82},
{"t":5,"x":432,"hi":0.58,"lo":-0.42},
{"t":5,"x":440,"hi":0.36,"lo":-0.55},
{"t":5,"x":448,"hi":0.52,"lo":-0.36,"rhi":0.26,"rlo":-0.22},
{"t":5,"x":456,"hi":0.62,"lo":-0.62},
{"t":5,"x":464,"hi":0.92,"lo":-0.47},
{"t":5,"x":472,"hi":0.40,"lo":-0.33},
{"t":5,"x":480,"hi":0.48,"lo":-0.58},
{"t":5,"x":488,"hi":0.94,"lo":-0.94},
{"t":5,"x":496,"hi":0.33,"lo":-0.40},
{"t":5,"x":504,"hi":0.55,"lo":-0.50},
{"t":5,"x":512,"hi":0.43,"lo":-0.65,"rhi":0.25,"rlo":-0.21},
{"t":5,"x":520,"hi":0.85,"lo":-0.38},
{"t":5,"x":528,"hi":0.60,"lo":-0.42},
{"t":5,"x":536,"hi":0.38,"lo":-0.55},
{"t":5,"x":544,"hi":0.50,"lo":-0.36},
{"t":5,"x":552,"hi":0.85,"lo":-0.77},
{"t":5,"x":560,"hi":0.45,"lo":-0.62},
{"t":5,"x":568,"hi":0.58,"lo":-0.47},
{"t":5,"x":576,"hi":0.36,"lo":-0.33,"rhi":0.26,"rlo":-0.20},
{"t":5,"x":584,"hi":0.52,"lo":-0.58},
{"t":5,"x":592,"hi":0.87,"lo":-0.82},
{"t":5,"x":600,"hi":0.62,"lo":-0.40},
{"t":5,"x":608,"hi":0.40,"lo":-0.50},
{"t":5,"x":616,"hi":0.48,"lo":-0.65},
{"t":5,"x":624,"hi":0.94,"lo":-0.96},
{"t":5,"x":632,"hi":0.33,"lo":-0.38},
{"t":5,"x":640,"hi":0.55,"lo":-0.42,"rhi":0.25,"rlo":-0.21},
{"t":5,"x":648,"hi":0.43,"lo":-0.55},
{"t":5,"x":656,"hi":0.82,"lo":-0.36},
{"t":5,"x":664,"hi":0.60,"lo":-0.62},
{"t":5,"x":672,"hi":0.38,"lo":-0.47},
{"t":5,"x":680,"hi":0.50,"lo":-0.33},
{"t":5,"x":688,"hi":0.75,"lo":-0.80},
{"t":5,"x":696,"hi":0.45,"lo":-0.58},
{"t":5,"x":704,"hi":0.58,"lo":-0.40,"rhi":0.24,"rlo":-0.20},
{"t":5,"x":712,"hi":0.36,"lo":-0.50},
{"t":5,"x":720,"hi":0.85,"lo":-0.82},
{"t":5,"x":728,"hi":0.52,"lo":-0.65},
{"t":5,"x":736,"hi":0.62,"lo":-0.38},
{"t":5,"x":744,"hi":0.40,"lo":-0.42},
{"t":5,"x":752,"hi":0.80,"lo":-0.73},
{"t":5,"x":760,"hi":0.48,"lo":-0.55},
{"t":5,"x":768,"hi":0.33,"lo":-0.36,"rhi":0.25,"rlo":-0.21},
{"t":5,"x":776,"hi":0.55,"lo":-0.62},
{"t":5,"x":784,"hi":0.43,"lo":-0.47},
{"t":5,"x":792,"hi":0.85,"lo":-0.33},
{"t":5,"x":800,"hi":0.60,"lo":-0.58},
{"t":5,"x":808,"hi":0.38,"lo":-0.40},
{"t":5,"x":816,"hi":0.50,"lo":-0.50},
{"t":5,"x":824,"hi":0.80,"lo":-0.80},
{"t":5,"x":832,"hi":0.45,"lo":-0.65,"rhi":0.24,"rlo":-0.21},
{"t":5,"x":840,"hi":0.58,"lo":-0.38},
{"t":5,"x":848,"hi":0.36,"lo":-0.42},
{"t":5,"x":856,"hi":0.80,"lo":-0.55},
{"t":5,"x":864,"hi":0.52,"lo":-0.36},
{"t":5,"x":872,"hi":0.62,"lo":-0.62},
{"t":5,"x":880,"hi":0.40,"lo":-0.47},
{"t":5,"x":888,"hi":0.77,"lo":-0.77},
{"t":5,"x":896,"hi":0.48,"lo":-0.33,"rhi":0.25,"rlo":-0.20},
{"t":5,"x":904,"hi":0.33,"lo":-0.58},
{"t":5,"x":912,"hi":0.55,"lo":-0.40},
{"t":5,"x":920,"hi":0.92,"lo":-0.50},
{"t":5,"x":928,"hi":0.43,"lo":-0.65},
{"t":5,"x":936,"hi":0.60,"lo":-0.38},
{"t":5,"x":944,"hi":0.38,"lo":-0.42},
{"t":5,"x":952,"hi":0.82,"lo":-0.82},
{"t":5,"x":960,"hi":0.50,"lo":-0.55,"rhi":0.24,"rlo":-0.21},
{"t":5,"x":968,"hi":0.45,"lo":-0.36},
{"t":5,"x":976,"hi":0.58,"lo":-0.62},
{"t":5,"x":984,"hi":0.80,"lo":-0.75},
{"t":5,"x":992,"hi":0.36,"lo":-0.47},
{"t":5,"x":1000,"hi":0.52,"lo":-0.33},
{"t":5,"x":1008,"hi":0.62,"lo":-0.58},
{"t":5,"x":1016,"hi":0.73,"lo":-0.40},
{"t":5,"x":1024,"hi":0.40,"lo":-0.50,"rhi":0.25,"rlo":-0.20},
{"t":5,"x":1032,"hi":0.48,"lo":-0.65},
{"t":5,"x":1040,"hi":0.33,"lo":-0.38},
{"t":5,"x":1048,"hi":0.89,"lo":-0.82},
{"t":5,"x":1056,"hi":0.55,"lo":-0.42},
{"t":5,"x":1064,"hi":0.43,"lo":-0.55},
{"t":5,"x":1072,"hi":0.60,"lo":-0.36},
{"t":5,"x":1080,"hi":0.70,"lo":-0.62},
{"t":5,"x":1088,"hi":0.38,"lo":-0.47,"rhi":0.24,"rlo":-0.20},
{"t":5,"x":1096,"hi":0.50,"lo":-0.33},
{"t":5,"x":1104,"hi":0.45,"lo":-0.58},
{"t":5,"x":1112,"hi":0.77,"lo":-0.77},
{"t":5,"x":1120,"hi":0.58,"lo":-0.40},
{"t":5,"x":1128,"hi":0.36,"lo":-0.50},
{"t":5,"x":1136,"hi":0.52,"lo":-0.65},
{"t":5,"x":1144,"hi":0.62,"lo":-0.38},
{"t":5,"x":1152,"hi":0.73,"lo":-0.42,"rhi":0.24,"rlo":-0.21},
{"t":5,"x":1160,"hi":0.40,"lo":-0.55},
{"t":5,"x":1168,"hi":0.48,"lo":-0.36},
{"t":5,"x":1176,"hi":0.33,"lo":-0.62},
{"t":5,"x":1184,"hi":0.75,"lo":-0.82},
{"t":5,"x":1192,"hi":0.55,"lo":-0.47},
{"t":5,"x":1200,"hi":0.43,"lo":-0.33},
{"t":5,"x":1208,"hi":0.60,"lo":-0.58},
{"t":5,"x":1216,"hi":0.77,"lo":-0.92,"rhi":0.25,"rlo":-0.20},
{"t":5,"x":1224,"hi":0.38,"lo":-0.40},
{"t":5,"x":1232,"hi":0.50,"lo":-0.50},
{"t":5,"x":1240,"hi":0.45,"lo":-0.65},
{"t":5,"x":1248,"hi":0.73,"lo":-0.38},
{"t":5,"x":1256,"hi":0.58,"lo":-0.42},
{"t":5,"x":1264,"hi":0.36,"lo":-0.55},
{"t":5,"x":1272,"hi":0.52,"lo":-0.36},
{"t":5,"x":1280,"hi":0.68,"lo":-0.89,"rhi":0.24,"rlo":-0.20},
{"t":5,"x":1288,"hi":0.62,"lo":-0.62},
{"t":5,"x":1296,"hi":0.40,"lo":-0.47},
{"t":5,"x":1304,"hi":0.48,"lo":-0.33},
{"t":5,"x":1312,"hi":0.70,"lo":-0.58},
{"t":5,"x":1320,"hi":0.33,"lo":-0.40},
{"t":5,"x":1328,"hi":0.55,"lo":-0.50},
{"t":5,"x":1336,"hi":0.43,"lo":-0.65},
{"t":5,"x":1344,"hi":0.66,"lo":-0.77,"rhi":0.23,"rlo":-0.20},
{"t":5,"x":1352,"hi":0.60,"lo":-0.38},
{"t":5,"x":1360,"hi":0.38,"lo":-0.42},
{"t":5,"x":1368,"hi":0.50,"lo":-0.55},
{"t":5,"x":1376,"hi":0.70,"lo":-0.36},
{"t":5,"x":1384,"hi":0.45,"lo":-0.62},
{"t":5,"x":1392,"hi":0.58,"lo":-0.47},
{"t":5,"x":1400,"hi":0.36,"lo":-0.33},
{"t":5,"x":1408,"hi":0.73,"lo":-0.80,"rhi":0.24,"rlo":-0.21},
{"t":5,"x":1416,"hi":0.52,"lo":-0.58},
{"t":5,"x":1424,"hi":0.62,"lo":-0.40},
{"t":5,"x":1432,"hi":0.40,"lo":-0.50},
{"t":5,"x":1440,"hi":0.66,"lo":-0.65},
{"t":5,"x":1448,"hi":0.48,"lo":-0.38},
{"t":5,"x":1456,"hi":0.33,"lo":-0.42},
{"t":5,"x":1464,"hi":0.55,"lo":-0.55},
{"t":5,"x":1472,"hi":0.70,"lo":-0.77,"rhi":0.23,"rlo":-0.20},
{"t":5,"x":1480,"hi":0.43,"lo":-0.36},
{"t":5,"x":1488,"hi":0.60,"lo":-0.62},
{"t":5,"x":1496,"hi":0.38,"lo":-0.47},
{"t":5,"x":1504,"hi":0.68,"lo":-0.70},
{"t":5,"x":1512,"hi":0.50,"lo":-0.33},
{"t":5,"x":1520,"hi":0.45,"lo":-0.58},
{"t":5,"x":1528,"hi":0.58,"lo":-0.40},
{"t":5,"x":1536,"hi":0.70,"lo":-0.80,"rhi":0.24,"rlo":-0.20},
{"t":5,"x":1544,"hi":0.36,"lo":-0.50},
{"t":5,"x":1552,"hi":0.52,"lo":-0.65},
{"t":5,"x":1560,"hi":0.62,"lo":-0.38},
{"t":5,"x":1568,"hi":0.40,"lo":-0.42,"rhi":0.23,"rlo":-0.20},
{"t":5,"x":4,"hi":0.38,"lo":-0.36},{"t":5,"x":12,"hi":0.42,"lo":-0.40},{"t":5,"x":20,"hi":0.35,"lo":-0.33},{"t":5,"x":28,"hi":0.44,"lo":-0.42},
{"t":5,"x":36,"hi":0.40,"lo":-0.38},{"t":5,"x":44,"hi":0.36,"lo":-0.35},{"t":5,"x":52,"hi":0.46,"lo":-0.44},{"t":5,"x":60,"hi":0.39,"lo":-0.37},
{"t":5,"x":68,"hi":0.41,"lo":-0.39},{"t":5,"x":76,"hi":0.37,"lo":-0.36},{"t":5,"x":84,"hi":0.43,"lo":-0.40},{"t":5,"x":92,"hi":0.38,"lo":-0.33},
{"t":5,"x":100,"hi":0.42,"lo":-0.42},{"t":5,"x":108,"hi":0.35,"lo":-0.38},{"t":5,"x":116,"hi":0.44,"lo":-0.35},{"t":5,"x":124,"hi":0.40,"lo":-0.44},
{"t":5,"x":132,"hi":0.36,"lo":-0.37},{"t":5,"x":140,"hi":0.46,"lo":-0.39},{"t":5,"x":148,"hi":0.39,"lo":-0.36},{"t":5,"x":156,"hi":0.41,"lo":-0.40},
{"t":5,"x":164,"hi":0.37,"lo":-0.33},{"t":5,"x":172,"hi":0.43,"lo":-0.42},{"t":5,"x":180,"hi":0.38,"lo":-0.38},{"t":5,"x":188,"hi":0.42,"lo":-0.35},
{"t":5,"x":196,"hi":0.35,"lo":-0.44},{"t":5,"x":204,"hi":0.44,"lo":-0.37},{"t":5,"x":212,"hi":0.40,"lo":-0.39},{"t":5,"x":220,"hi":0.36,"lo":-0.36},
{"t":5,"x":228,"hi":0.46,"lo":-0.40},{"t":5,"x":236,"hi":0.39,"lo":-0.33},{"t":5,"x":244,"hi":0.41,"lo":-0.42},{"t":5,"x":252,"hi":0.37,"lo":-0.38},
{"t":5,"x":260,"hi":0.43,"lo":-0.35},{"t":5,"x":268,"hi":0.38,"lo":-0.44},{"t":5,"x":276,"hi":0.42,"lo":-0.37},{"t":5,"x":284,"hi":0.35,"lo":-0.39},
{"t":5,"x":292,"hi":0.44,"lo":-0.36},{"t":5,"x":300,"hi":0.40,"lo":-0.40},{"t":5,"x":308,"hi":0.36,"lo":-0.33},{"t":5,"x":316,"hi":0.46,"lo":-0.42},
{"t":5,"x":324,"hi":0.39,"lo":-0.38},{"t":5,"x":332,"hi":0.41,"lo":-0.35},{"t":5,"x":340,"hi":0.37,"lo":-0.44},{"t":5,"x":348,"hi":0.43,"lo":-0.37},
{"t":5,"x":356,"hi":0.38,"lo":-0.39},{"t":5,"x":364,"hi":0.42,"lo":-0.36},{"t":5,"x":372,"hi":0.35,"lo":-0.40},{"t":5,"x":380,"hi":0.44,"lo":-0.33},
{"t":5,"x":388,"hi":0.40,"lo":-0.42},{"t":5,"x":396,"hi":0.36,"lo":-0.38},{"t":5,"x":404,"hi":0.46,"lo":-0.35},{"t":5,"x":412,"hi":0.39,"lo":-0.44},
{"t":5,"x":420,"hi":0.41,"lo":-0.37},{"t":5,"x":428,"hi":0.37,"lo":-0.39},{"t":5,"x":436,"hi":0.43,"lo":-0.36},{"t":5,"x":444,"hi":0.38,"lo":-0.40},
{"t":5,"x":452,"hi":0.42,"lo":-0.33},{"t":5,"x":460,"hi":0.35,"lo":-0.42},{"t":5,"x":468,"hi":0.44,"lo":-0.38},{"t":5,"x":476,"hi":0.40,"lo":-0.35},
{"t":5,"x":484,"hi":0.36,"lo":-0.44},{"t":5,"x":492,"hi":0.46,"lo":-0.37},{"t":5,"x":500,"hi":0.39,"lo":-0.39},{"t":5,"x":508,"hi":0.41,"lo":-0.36},
{"t":5,"x":516,"hi":0.37,"lo":-0.40},{"t":5,"x":524,"hi":0.43,"lo":-0.33},{"t":5,"x":532,"hi":0.38,"lo":-0.42},{"t":5,"x":540,"hi":0.42,"lo":-0.38},
{"t":5,"x":548,"hi":0.35,"lo":-0.35},{"t":5,"x":556,"hi":0.44,"lo":-0.44},{"t":5,"x":564,"hi":0.40,"lo":-0.37},{"t":5,"x":572,"hi":0.36,"lo":-0.39},
{"t":5,"x":580,"hi":0.46,"lo":-0.36},{"t":5,"x":588,"hi":0.39,"lo":-0.40},{"t":5,"x":596,"hi":0.41,"lo":-0.33},{"t":5,"x":604,"hi":0.37,"lo":-0.42},
{"t":5,"x":612,"hi":0.43,"lo":-0.38},{"t":5,"x":620,"hi":0.38,"lo":-0.35},{"t":5,"x":628,"hi":0.42,"lo":-0.44},{"t":5,"x":636,"hi":0.35,"lo":-0.37},
{"t":5,"x":644,"hi":0.44,"lo":-0.39},{"t":5,"x":652,"hi":0.40,"lo":-0.36},{"t":5,"x":660,"hi":0.36,"lo":-0.40},{"t":5,"x":668,"hi":0.46,"lo":-0.33},
{"t":5,"x":676,"hi":0.39,"lo":-0.42},{"t":5,"x":684,"hi":0.41,"lo":-0.38},{"t":5,"x":692,"hi":0.37,"lo":-0.35},{"t":5,"x":700,"hi":0.43,"lo":-0.44},
{"t":5,"x":708,"hi":0.38,"lo":-0.37},{"t":5,"x":716,"hi":0.42,"lo":-0.39},{"t":5,"x":724,"hi":0.35,"lo":-0.36},{"t":5,"x":732,"hi":0.44,"lo":-0.40},
{"t":5,"x":740,"hi":0.40,"lo":-0.33},{"t":5,"x":748,"hi":0.36,"lo":-0.42},{"t":5,"x":756,"hi":0.46,"lo":-0.38},{"t":5,"x":764,"hi":0.39,"lo":-0.35},
{"t":5,"x":772,"hi":0.41,"lo":-0.44},{"t":5,"x":780,"hi":0.37,"lo":-0.37},{"t":5,"x":788,"hi":0.43,"lo":-0.39},{"t":5,"x":796,"hi":0.38,"lo":-0.36},
{"t":5,"x":804,"hi":0.42,"lo":-0.40},{"t":5,"x":812,"hi":0.35,"lo":-0.33},{"t":5,"x":820,"hi":0.44,"lo":-0.42},{"t":5,"x":828,"hi":0.40,"lo":-0.38},
{"t":5,"x":836,"hi":0.36,"lo":-0.35},{"t":5,"x":844,"hi":0.46,"lo":-0.44},{"t":5,"x":852,"hi":0.39,"lo":-0.37},{"t":5,"x":860,"hi":0.41,"lo":-0.39},
{"t":5,"x":868,"hi":0.37,"lo":-0.36},{"t":5,"x":876,"hi":0.43,"lo":-0.40},{"t":5,"x":884,"hi":0.38,"lo":-0.33},{"t":5,"x":892,"hi":0.42,"lo":-0.42},
{"t":5,"x":900,"hi":0.35,"lo":-0.38},{"t":5,"x":908,"hi":0.44,"lo":-0.35},{"t":5,"x":916,"hi":0.40,"lo":-0.44},{"t":5,"x":924,"hi":0.36,"lo":-0.37},
{"t":5,"x":932,"hi":0.46,"lo":-0.39},{"t":5,"x":940,"hi":0.39,"lo":-0.36},{"t":5,"x":948,"hi":0.41,"lo":-0.40},{"t":5,"x":956,"hi":0.37,"lo":-0.33},
{"t":5,"x":964,"hi":0.43,"lo":-0.42},{"t":5,"x":972,"hi":0.38,"lo":-0.38},{"t":5,"x":980,"hi":0.42,"lo":-0.35},{"t":5,"x":988,"hi":0.35,"lo":-0.44},
{"t":5,"x":996,"hi":0.44,"lo":-0.37},{"t":5,"x":1004,"hi":0.40,"lo":-0.39},{"t":5,"x":1012,"hi":0.36,"lo":-0.36},{"t":5,"x":1020,"hi":0.46,"lo":-0.40},
{"t":5,"x":1028,"hi":0.39,"lo":-0.33},{"t":5,"x":1036,"hi":0.41,"lo":-0.42},{"t":5,"x":1044,"hi":0.37,"lo":-0.38},{"t":5,"x":1052,"hi":0.43,"lo":-0.35},
{"t":5,"x":1060,"hi":0.38,"lo":-0.44},{"t":5,"x":1068,"hi":0.42,"lo":-0.37},{"t":5,"x":1076,"hi":0.35,"lo":-0.39},{"t":5,"x":1084,"hi":0.44,"lo":-0.36},
{"t":5,"x":1092,"hi":0.40,"lo":-0.40},{"t":5,"x":1100,"hi":0.36,"lo":-0.33},{"t":5,"x":1108,"hi":0.46,"lo":-0.42},{"t":5,"x":1116,"hi":0.39,"lo":-0.38},
{"t":5,"x":1124,"hi":0.41,"lo":-0.35},{"t":5,"x":1132,"hi":0.37,"lo":-0.44},{"t":5,"x":1140,"hi":0.43,"lo":-0.37},{"t":5,"x":1148,"hi":0.38,"lo":-0.39},
{"t":5,"x":1156,"hi":0.42,"lo":-0.36},{"t":5,"x":1164,"hi":0.35,"lo":-0.40},{"t":5,"x":1172,"hi":0.44,"lo":-0.33},{"t":5,"x":1180,"hi":0.40,"lo":-0.42},
{"t":5,"x":1188,"hi":0.36,"lo":-0.38},{"t":5,"x":1196,"hi":0.46,"lo":-0.35},{"t":5,"x":1204,"hi":0.39,"lo":-0.44},{"t":5,"x":1212,"hi":0.41,"lo":-0.37},
{"t":5,"x":1220,"hi":0.37,"lo":-0.39},{"t":5,"x":1228,"hi":0.43,"lo":-0.36},{"t":5,"x":1236,"hi":0.38,"lo":-0.40},{"t":5,"x":1244,"hi":0.42,"lo":-0.33},
{"t":5,"x":1252,"hi":0.35,"lo":-0.42},{"t":5,"x":1260,"hi":0.44,"lo":-0.38},{"t":5,"x":1268,"hi":0.40,"lo":-0.35},{"t":5,"x":1276,"hi":0.36,"lo":-0.44},
{"t":5,"x":1284,"hi":0.46,"lo":-0.37},{"t":5,"x":1292,"hi":0.39,"lo":-0.39},{"t":5,"x":1300,"hi":0.41,"lo":-0.36},{"t":5,"x":1308,"hi":0.37,"lo":-0.40},
{"t":5,"x":1316,"hi":0.43,"lo":-0.33},{"t":5,"x":1324,"hi":0.38,"lo":-0.42},{"t":5,"x":1332,"hi":0.42,"lo":-0.38},{"t":5,"x":1340,"hi":0.35,"lo":-0.35},
{"t":5,"x":1348,"hi":0.44,"lo":-0.44},{"t":5,"x":1356,"hi":0.40,"lo":-0.37},{"t":5,"x":1364,"hi":0.36,"lo":-0.39},{"t":5,"x":1372,"hi":0.46,"lo":-0.36},
{"t":5,"x":1380,"hi":0.39,"lo":-0.40},{"t":5,"x":1388,"hi":0.41,"lo":-0.33},{"t":5,"x":1396,"hi":0.37,"lo":-0.42},{"t":5,"x":1404,"hi":0.43,"lo":-0.38},
{"t":5,"x":1412,"hi":0.38,"lo":-0.35},{"t":5,"x":1420,"hi":0.42,"lo":-0.44},{"t":5,"x":1428,"hi":0.35,"lo":-0.37},{"t":5,"x":1436,"hi":0.44,"lo":-0.39},
{"t":5,"x":1444,"hi":0.40,"lo":-0.36},{"t":5,"x":1452,"hi":0.36,"lo":-0.40},{"t":5,"x":1460,"hi":0.46,"lo":-0.33},{"t":5,"x":1468,"hi":0.39,"lo":-0.42},
{"t":5,"x":1476,"hi":0.41,"lo":-0.38},{"t":5,"x":1484,"hi":0.37,"lo":-0.35},{"t":5,"x":1492,"hi":0.43,"lo":-0.44},{"t":5,"x":1500,"hi":0.38,"lo":-0.37},
{"t":5,"x":1508,"hi":0.42,"lo":-0.39},{"t":5,"x":1516,"hi":0.35,"lo":-0.36},{"t":5,"x":1524,"hi":0.44,"lo":-0.40},{"t":5,"x":1532,"hi":0.40,"lo":-0.33},
{"t":5,"x":1540,"hi":0.36,"lo":-0.42},{"t":5,"x":1548,"hi":0.46,"lo":-0.38},{"t":5,"x":1556,"hi":0.39,"lo":-0.35},{"t":5,"x":1564,"hi":0.41,"lo":-0.44}
]},
"facet":{"row":{"field":"t","type":"ordinal","title":null,"header":{"labels":false}}},
"spacing":{"row":7.5},
"spec":{
"width":1754,"height":141,
"view":{"fill":"#C0C0C0","stroke":"#000"},
"layer":[
{"transform":[{"filter":"datum.t<5"}],
 "mark":{"type":"area","color":"#3232C8","opacity":1,"interpolate":"monotone"},
 "encoding":{
  "x":{"field":"x","type":"quantitative","scale":{"domain":[0,1568],"nice":false,"zero":false},"axis":null},
  "y":{"field":"hi","type":"quantitative","scale":{"domain":[-1,1],"nice":false,"zero":false},"axis":null},
  "y2":{"field":"lo"}}},
{"transform":[{"filter":"datum.t===5"}],
 "mark":{"type":"area","color":"#3232C8","opacity":1,"interpolate":"linear"},
 "encoding":{
  "x":{"field":"x","type":"quantitative","axis":null},
  "y":{"field":"hi","type":"quantitative","axis":null},
  "y2":{"field":"lo"}}},
{"transform":[{"filter":"isValid(datum.rhi)"}],
 "mark":{"type":"area","color":"#6464DC","opacity":1,"interpolate":"monotone"},
 "encoding":{
  "x":{"field":"x","type":"quantitative","axis":null},
  "y":{"field":"rhi","type":"quantitative","axis":null},
  "y2":{"field":"rlo"}}},
{"transform":[{"filter":"datum.t===5 && datum.x===0"}],
 "mark":{"type":"text","align":"right","baseline":"middle","font":"DejaVu Sans Mono","fontSize":13,"color":"#808080"},
 "encoding":{
  "x":{"datum":1558,"type":"quantitative","axis":null},
  "y":{"datum":-0.89,"type":"quantitative","axis":null},
  "text":{"value":"www.beneneaththewaves.net"}}},
{"transform":[{"filter":"datum.x===0"}],
 "mark":{"type":"text","align":"right","baseline":"top","fontSize":12,"fontWeight":"bold","color":"#000","clip":false},
 "encoding":{"x":{"datum":-3.6,"type":"quantitative","axis":null},"y":{"datum":0.985,"type":"quantitative","axis":null},"text":{"value":"1.0"}}},
{"transform":[{"filter":"datum.x===0"}],
 "mark":{"type":"text","align":"right","baseline":"middle","fontSize":12,"fontWeight":"normal","color":"#000","clip":false},
 "encoding":{"x":{"datum":-3.6,"type":"quantitative","axis":null},"y":{"datum":0.5,"type":"quantitative","axis":null},"text":{"value":"0.5"}}},
{"transform":[{"filter":"datum.x===0"}],
 "mark":{"type":"text","align":"right","baseline":"middle","fontSize":12,"fontWeight":"bold","color":"#000","clip":false},
 "encoding":{"x":{"datum":-3.6,"type":"quantitative","axis":null},"y":{"datum":0,"type":"quantitative","axis":null},"text":{"value":"0.0"}}},
{"transform":[{"filter":"datum.x===0"}],
 "mark":{"type":"text","align":"right","baseline":"middle","fontSize":12,"fontWeight":"normal","color":"#000","clip":false},
 "encoding":{"x":{"datum":-3.6,"type":"quantitative","axis":null},"y":{"datum":-0.5,"type":"quantitative","axis":null},"text":{"value":"-0.5"}}},
{"transform":[{"filter":"datum.x===0"}],
 "mark":{"type":"text","align":"right","baseline":"bottom","fontSize":12,"fontWeight":"bold","color":"#000","clip":false},
 "encoding":{"x":{"datum":-3.6,"type":"quantitative","axis":null},"y":{"datum":-0.985,"type":"quantitative","axis":null},"text":{"value":"-1.0"}}},
{"transform":[{"filter":"datum.x===0"}],
 "mark":{"type":"rule","color":"#000","strokeWidth":1,"clip":false},
 "encoding":{"x":{"datum":-2.7,"type":"quantitative","axis":null},"x2":{"datum":0},"y":{"datum":0.5,"type":"quantitative","axis":null}}},
{"transform":[{"filter":"datum.x===0"}],
 "mark":{"type":"rule","color":"#000","strokeWidth":1,"clip":false},
 "encoding":{"x":{"datum":-2.7,"type":"quantitative","axis":null},"x2":{"datum":0},"y":{"datum":0,"type":"quantitative","axis":null}}},
{"transform":[{"filter":"datum.x===0"}],
 "mark":{"type":"rule","color":"#000","strokeWidth":1,"clip":false},
 "encoding":{"x":{"datum":-2.7,"type":"quantitative","axis":null},"x2":{"datum":0},"y":{"datum":-0.5,"type":"quantitative","axis":null}}}
]}
}
]
}
